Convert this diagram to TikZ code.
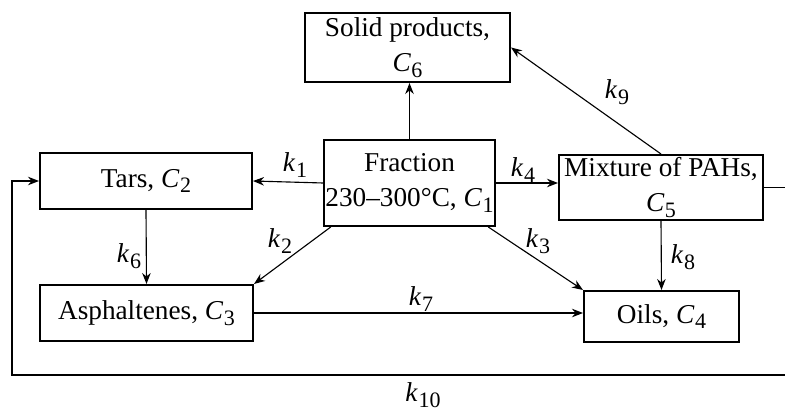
\documentclass[tikz,border=0pt]{standalone}
\usepackage{fontspec}
\setmainfont{Liberation Serif}
\usetikzlibrary{arrows.meta}
\newcommand{\rc}[2]{\textit{#1}\kern0.02em\raisebox{-0.45ex}{\fontsize{8.8}{9}\selectfont #2}}

\begin{document}
\begin{tikzpicture}[x=0.4pt,y=-0.4pt,
    font=\fontsize{10.9}{14}\selectfont,
    box/.style={draw, line width=0.8pt, align=center, inner sep=0.5pt},
    arr/.style={line width=0.45pt, -{Stealth[length=4.4pt,width=3.4pt]}},
    lbl/.style={inner sep=0pt}]
  \clip (0,0) rectangle (785,412);
  % ---- boxes ----
  \node[box, minimum width=82pt, minimum height=27.6pt] (sol) at (407.5,47.5) {Solid products,\\ \rc{C}{6}};
  \node[box, minimum width=67.6pt, minimum height=34.4pt] (frac) at (409.5,183) {Fraction\\ 230–300°C, \rc{C}{1}};
  \node[box, minimum width=81.6pt, minimum height=26pt] (pah) at (661,187.5) {Mixture of PAHs,\\ \rc{C}{5}};
  \node[box, minimum width=84.8pt, minimum height=22.4pt] (tars) at (146,181) {Tars, \rc{C}{2}};
  \node[box, minimum width=85.2pt, minimum height=22.4pt] (asph) at (146.5,313) {Asphaltenes, \rc{C}{3}};
  \node[box, minimum width=62pt, minimum height=20.4pt] (oils) at (661.5,316.5) {Oils, \rc{C}{4}};
  % ---- connectors ----
  \draw[arr] (frac.north) -- (frac.north |- sol.south);
  \draw[arr] (frac.west) -- (tars.east);
  \draw[arr] (frac.east) -- (frac.east -| pah.west);
  \draw[arr] ([xshift=3pt]frac.south west) -- (asph.north east);
  \draw[arr] ([xshift=-3pt]frac.south east) -- (oils.north west);
  \draw[arr] (pah.north) -- (sol.east);
  \draw[arr] (pah.south) -- (oils.north);
  \draw[arr] (tars.south) -- (asph.north);
  \draw[arr] (asph.east) -- (asph.east -| oils.west);
  % ---- recycle loop ----
  \coordinate (rb) at (800,375);
  \coordinate (lb) at (12,375);
  \draw[arr] (pah.east) -- (pah.east -| rb) -- (rb) -- (lb) |- (tars.west);
  % ---- rate constants ----
  \node[lbl] (k1) at (295,165) {\rc{k}{1}};
  \node[lbl] (k2) at (280,241) {\rc{k}{2}};
  \node[lbl] (k3) at (538,241) {\rc{k}{3}};
  \node[lbl] (k4) at (523,170) {\rc{k}{4}};
  \node[lbl] (k6) at (129,256) {\rc{k}{6}};
  \node[lbl] (k7) at (421,299) {\rc{k}{7}};
  \node[lbl] (k8) at (683,257) {\rc{k}{8}};
  \node[lbl] (k9) at (617,92) {\rc{k}{9}};
  \node[lbl] (k10) at (423,395) {\rc{k}{10}};
\end{tikzpicture}
\end{document}
